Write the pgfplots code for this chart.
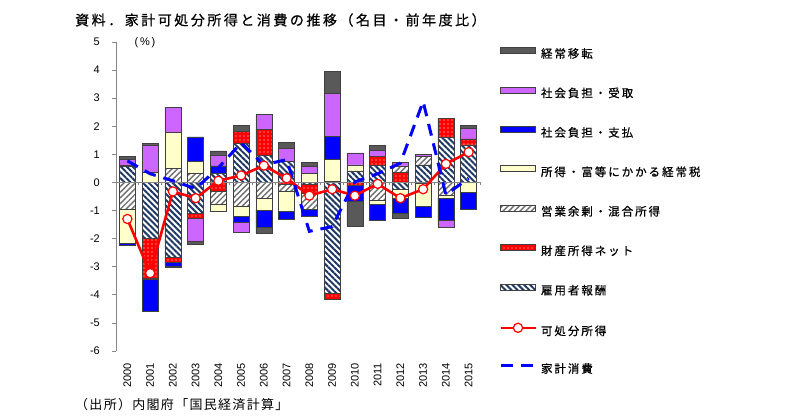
\documentclass[border=0pt]{standalone}
\usepackage{pgfplots}
\pgfplotsset{compat=1.18}
\usepackage{pgfplotstable}
\usepackage{fontspec}
\setmainfont{Liberation Sans}
\newfontfamily\jp{Noto Sans CJK JP}
\newfontfamily\jpt[LetterSpace=18,FakeBold=0.8]{Noto Sans CJK JP}
\newfontfamily\jpl[LetterSpace=17,FakeBold=0.6]{Noto Sans CJK JP}
\newfontfamily\jps[LetterSpace=10]{Noto Sans CJK JP}
\usetikzlibrary{patterns.meta}

\definecolor{cC}{RGB}{89,89,89}
\definecolor{cR}{RGB}{204,102,255}
\definecolor{cS}{RGB}{0,0,255}
\definecolor{cT}{RGB}{255,255,204}
\definecolor{cO}{RGB}{110,110,110}
\definecolor{cP}{RGB}{255,0,0}
\definecolor{cE}{RGB}{31,56,100}
\definecolor{edge}{RGB}{64,64,64}
\definecolor{axgray}{RGB}{134,134,134}

% E: compensation of employees, P: property income, O: operating surplus/mixed income,
% T: current taxes, S: social contributions paid, R: social benefits received, C: other current transfers
% DI: disposable income, HC: household consumption
\pgfplotstableread{
year E P O T S R C DI HC
0 0.57 0.05 -0.95 -1.21 -0.07 0.21 0.10 -1.30 0.77
1 -1.98 -1.42 -0.04 0.36 -1.15 0.98 0.04 -3.23 0.31
2 -2.67 -0.17 0.51 1.28 -0.13 0.89 -0.04 -0.32 0.06
3 -1.09 -0.20 0.31 0.44 0.87 -0.81 -0.10 -0.56 -0.22
4 0.31 -0.33 -0.44 -0.27 0.28 0.39 0.14 0.06 0.52
5 1.38 0.44 -0.83 -0.36 -0.24 -0.36 0.20 0.25 1.41
6 0.96 0.94 -0.56 -0.42 -0.63 0.51 -0.20 0.60 0.63
7 0.74 -0.08 -0.25 -0.68 -0.31 0.48 0.21 0.15 0.81
8 -0.05 -0.35 -0.57 0.31 -0.24 0.27 0.14 -0.47 -1.74
9 -3.94 -0.21 0.05 0.76 0.83 1.54 0.77 -0.24 -1.57
10 0.41 -0.10 0.00 0.22 -0.57 0.42 -0.89 -0.47 0.02
11 0.61 0.32 -0.65 -0.12 -0.56 0.21 0.17 -0.05 0.31
12 -0.24 0.37 0.22 -0.32 -0.53 0.13 -0.18 -0.56 0.69
13 0.63 -0.04 0.29 -0.79 -0.42 0.08 0.00 -0.24 2.88
14 1.60 0.69 -0.44 -0.12 -0.80 -0.25 0.00 0.66 -0.44
15 1.34 0.21 0.00 -0.36 -0.61 0.38 0.09 1.08 0.15
}\data

\tikzset{
  sE/.style={fill=white, postaction={pattern={Lines[angle=-45,distance=4.2bp,line width=2bp]}, pattern color=cE}},
  sP/.style={fill=cP, postaction={pattern={Dots[distance=4bp,radius=0.7bp]}, pattern color=white}},
  sO/.style={fill=white, postaction={pattern={Lines[angle=45,distance=4bp,line width=1.4bp]}, pattern color=cO}},
  sT/.style={fill=cT},
  sS/.style={fill=cS},
  sR/.style={fill=cR},
  sC/.style={fill=cC},
}
\pgfplotsset{
  barleg/.style={legend image code/.code={\draw[##1] (0bp,1.5bp) rectangle (35bp,7.5bp);}},
  lineleg/.style={legend image code/.code={\draw[mark repeat=2,mark phase=2,##1] plot coordinates {(0bp,4.4bp) (17.5bp,4.4bp) (35bp,4.4bp)};}},
  common/.style={
    at={(116bp,69bp)}, anchor=south west,
    scale only axis, width=364bp, height=309bp,
    xmin=-0.5, xmax=15.5, ymin=-6, ymax=5,
    enlargelimits=false,
  },
  barcommon/.style={ybar stacked, bar width=16bp},
}

\begin{document}
\begin{tikzpicture}
\useasboundingbox (0bp,0bp) rectangle (799bp,420bp);

% positive parts
\begin{axis}[common, barcommon,
  axis lines*=left,
  x axis line style={draw=none},
  y axis line style={draw=axgray, line width=0.8bp},
  xtick={0,...,15},
  xticklabels={2000,2001,2002,2003,2004,2005,2006,2007,2008,2009,2010,2011,2012,2013,2014,2015},
  xtick style={draw=none},
  xticklabel style={rotate=90, anchor=east, font=\fontsize{11bp}{13bp}\selectfont, inner sep=0pt},
  xticklabel shift=8bp,
  ytick={-6,...,5},
  ytick style={draw=axgray, line width=0.8bp},
  tick align=outside, major tick length=4bp,
  yticklabel style={font=\fontsize{11bp}{13bp}\selectfont, inner sep=0pt},
  yticklabel shift=12bp,
  /pgf/number format/assume math mode=true,
]
\addplot[draw=edge, line width=0.5bp, sE] table[x=year, y expr={max(\thisrow{E},0)}]{\data};
\addplot[draw=edge, line width=0.5bp, sP] table[x=year, y expr={max(\thisrow{P},0)}]{\data};
\addplot[draw=edge, line width=0.5bp, sO] table[x=year, y expr={max(\thisrow{O},0)}]{\data};
\addplot[draw=edge, line width=0.5bp, sT] table[x=year, y expr={max(\thisrow{T},0)}]{\data};
\addplot[draw=edge, line width=0.5bp, sS] table[x=year, y expr={max(\thisrow{S},0)}]{\data};
\addplot[draw=edge, line width=0.5bp, sR] table[x=year, y expr={max(\thisrow{R},0)}]{\data};
\addplot[draw=edge, line width=0.5bp, sC] table[x=year, y expr={max(\thisrow{C},0)}]{\data};
\end{axis}

% negative parts
\begin{axis}[common, barcommon, hide axis]
\addplot[draw=edge, line width=0.5bp, sE] table[x=year, y expr={min(\thisrow{E},0)}]{\data};
\addplot[draw=edge, line width=0.5bp, sP] table[x=year, y expr={min(\thisrow{P},0)}]{\data};
\addplot[draw=edge, line width=0.5bp, sO] table[x=year, y expr={min(\thisrow{O},0)}]{\data};
\addplot[draw=edge, line width=0.5bp, sT] table[x=year, y expr={min(\thisrow{T},0)}]{\data};
\addplot[draw=edge, line width=0.5bp, sS] table[x=year, y expr={min(\thisrow{S},0)}]{\data};
\addplot[draw=edge, line width=0.5bp, sR] table[x=year, y expr={min(\thisrow{R},0)}]{\data};
\addplot[draw=edge, line width=0.5bp, sC] table[x=year, y expr={min(\thisrow{C},0)}]{\data};
\end{axis}

% lines and legend
\begin{axis}[common, hide axis, clip=false,
  legend style={at={(1.0522,0.9835)}, anchor=north west, draw=none, fill=none,
    inner sep=0pt, outer sep=0pt, row sep=26.7bp,
    font=\jpl\fontsize{11.5bp}{13bp}\selectfont,
    nodes={inner xsep=4bp, inner ysep=0pt, text height=8bp, text depth=2bp}},
  legend cell align=left,
]
\draw[axgray, line width=0.8bp] (axis cs:-0.5,0) -- (axis cs:15.5,0);
\pgfplotsinvokeforeach{-0.5,0.5,...,15.5}{\draw[axgray, line width=0.6bp] (axis cs:#1,0) -- ++(0bp,-3bp);}
\addlegendimage{barleg, draw=edge, line width=0.5bp, sC}
\addlegendimage{barleg, draw=edge, line width=0.5bp, sR}
\addlegendimage{barleg, draw=edge, line width=0.5bp, sS}
\addlegendimage{barleg, draw=edge, line width=0.5bp, sT}
\addlegendimage{barleg, draw=edge, line width=0.5bp, sO}
\addlegendimage{barleg, draw=edge, line width=0.5bp, sP}
\addlegendimage{barleg, draw=edge, line width=0.5bp, sE}
\addplot[lineleg, red, line width=2.6bp, mark=*, mark size=4.6bp,
  mark options={fill=white, draw=red, line width=1.2bp, solid}] table[x=year, y=DI]{\data};
\addplot[lineleg, color=cS, line width=3bp, dash pattern=on 12bp off 8bp] table[x=year, y=HC]{\data};
\legend{経常移転,社会負担・受取,社会負担・支払,所得・富等にかかる経常税,営業余剰・混合所得,財産所得ネット,雇用者報酬,可処分所得,家計消費}
\end{axis}

\node[anchor=west, inner sep=0pt, font=\jpt\fontsize{14bp}{16bp}\selectfont] at (75bp,400bp) {資料．家計可処分所得と消費の推移（名目・前年度比）};
\node[inner sep=0pt, font=\fontsize{11bp}{13bp}\selectfont] at (145bp,377bp) {(\,\%\,)};
\node[anchor=west, inner sep=0pt, font=\jps\fontsize{13bp}{15bp}\selectfont] at (75bp,15bp) {（出所）内閣府「国民経済計算」};
\end{tikzpicture}
\end{document}
